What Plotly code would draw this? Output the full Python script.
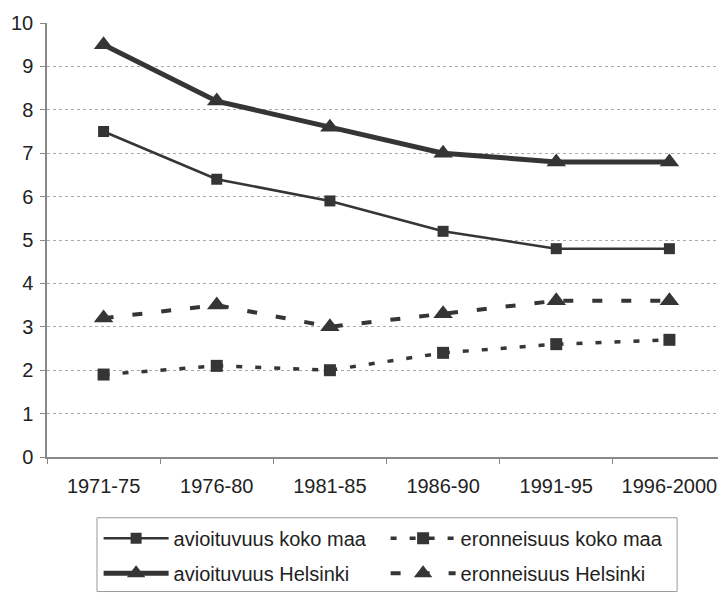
import plotly.graph_objects as go

periods = ["1971-75", "1976-80", "1981-85", "1986-90", "1991-95", "1996-2000"]
avio_koko = [7.5, 6.4, 5.9, 5.2, 4.8, 4.8]
ero_koko = [1.9, 2.1, 2.0, 2.4, 2.6, 2.7]
avio_hki = [9.5, 8.2, 7.6, 7.0, 6.8, 6.8]
ero_hki = [3.2, 3.5, 3.0, 3.3, 3.6, 3.6]
y_ticks = list(range(0, 11))

C = "#353535"
fig = go.Figure()
fig.add_trace(go.Scatter(x=periods, y=avio_koko, name="avioituvuus koko maa", mode="lines+markers",
                         legend="legend",
                         line=dict(color=C, width=2.5), marker=dict(symbol="square", size=11, color=C)))
fig.add_trace(go.Scatter(x=periods, y=ero_koko, name="eronneisuus koko maa", mode="lines+markers",
                         legend="legend",
                         line=dict(color=C, width=3.5, dash="6px,13px"), marker=dict(symbol="square", size=12, color=C)))
fig.add_trace(go.Scatter(x=periods, y=avio_hki, name="avioituvuus Helsinki", mode="lines+markers",
                         legend="legend2",
                         line=dict(color=C, width=5), marker=dict(symbol="triangle-up", size=17, color=C)))
fig.add_trace(go.Scatter(x=periods, y=ero_hki, name="eronneisuus Helsinki", mode="lines+markers",
                         legend="legend2",
                         line=dict(color=C, width=4, dash="10px,19px"), marker=dict(symbol="triangle-up", size=17, color=C)))

leg_common = dict(orientation="h", x=0.076, xanchor="left", yanchor="middle",
                  borderwidth=0, bgcolor="rgba(0,0,0,0)", font=dict(size=20),
                  entrywidth=207, itemwidth=65, traceorder="normal")

fig.update_layout(
    width=718, height=586,
    margin=dict(l=39, r=0, t=15, b=137, autoexpand=False),
    paper_bgcolor="white", plot_bgcolor="white",
    font=dict(family="Liberation Sans, Arial, sans-serif", color="#222", size=20),
    showlegend=True,
    legend=dict(y=-0.187, **leg_common),
    legend2=dict(y=-0.268, **leg_common),
    shapes=[dict(type="rect", xref="paper", yref="paper", x0=0.0736, x1=0.928, y0=-0.14, y1=-0.31,
                 line=dict(color="#999", width=1), fillcolor="rgba(0,0,0,0)", layer="below")],
    xaxis=dict(type="category", range=[-0.5, 5.5], showgrid=False, showline=True,
               linecolor="#888", linewidth=1.5, ticks="outside", tickson="boundaries",
               ticklen=5, tickcolor="#888", tickfont=dict(size=20), ticklabelstandoff=10,
               automargin=False),
    yaxis=dict(range=[0, 10], tickvals=y_ticks, showgrid=True, gridcolor="#aaa",
               griddash="dot", gridwidth=1.2, showline=True, linecolor="#888", linewidth=1.5,
               ticks="outside", ticklen=5, tickcolor="#888", zeroline=False,
               tickfont=dict(size=20), ticklabelstandoff=3, automargin=False),
)
fig.write_html("out.html")
